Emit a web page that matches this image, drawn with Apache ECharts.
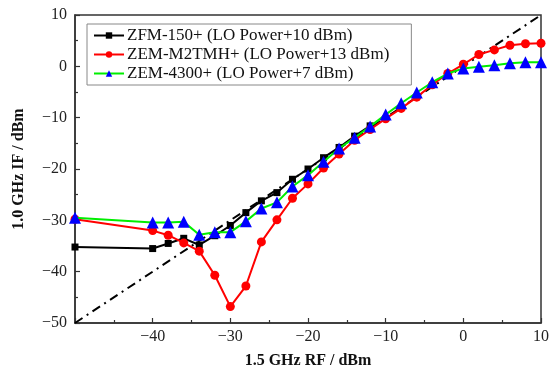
<!DOCTYPE html>
<html><head><meta charset="utf-8">
<script src="https://cdn.jsdelivr.net/npm/echarts@6/dist/echarts.min.js"></script>
<style>html,body{margin:0;padding:0;background:#fff}#c{width:560px;height:378px}</style>
</head><body><div id="c"></div>
<script>
var xLabelTicks = [-50, -40, -30, -20, -10, 0, 10];
var yLabelTicks = [-50, -40, -30, -20, -10, 0, 10];

var zfmX = [-50, -40, -38, -36, -34, -32, -30, -28, -26, -24, -22, -20, -18, -16, -14, -12];
var zfmY = [-35.2, -35.5, -34.5, -33.5, -34.8, -33.0, -31.0, -28.5, -26.2, -24.6, -22.0, -20.0, -17.8, -15.8, -13.6, -11.6];

var zemM2X = [-50, -40, -38, -36, -34, -32, -30, -28, -26, -24, -22, -20, -18, -16, -14, -12, -10, -8, -6, -4, -2, 0, 2, 4, 6, 8, 10];
var zemM2Y = [-29.8, -32.0, -32.9, -34.4, -36.0, -40.7, -46.8, -42.8, -34.2, -29.9, -25.7, -22.9, -19.8, -17.1, -14.4, -12.3, -10.2, -8.2, -6.0, -3.6, -1.4, 0.4, 2.3, 3.2, 4.1, 4.4, 4.5];

var zem43X = [-50, -40, -38, -36, -34, -32, -30, -28, -26, -24, -22, -20, -18, -16, -14, -12, -10, -8, -6, -4, -2, 0, 2, 4, 6, 8, 10];
var zem43Y = [-29.5, -30.4, -30.4, -30.3, -32.8, -32.3, -32.3, -30.2, -27.7, -26.5, -23.4, -21.2, -18.6, -16.0, -13.9, -11.7, -9.4, -7.2, -5.1, -3.1, -1.4, -0.4, -0.1, 0.2, 0.6, 0.8, 0.8];

var idealX = [-50, 10];
var idealY = [-50, 10];

var names = ['ZFM-150+ (LO Power+10 dBm)', 'ZEM-M2TMH+ (LO Power+13 dBm)', 'ZEM-4300+ (LO Power+7 dBm)'];

function zip(a, b) { return a.map(function (v, i) { return [v, b[i]]; }); }

var FONT = '"Liberation Serif", "DejaVu Serif", serif';
var chart = echarts.init(document.getElementById('c'), null, {renderer: 'canvas'});
chart.setOption({
  animation: false,
  backgroundColor: '#fff',
  grid: {left: 75, right: 19, top: 15, bottom: 55, show: true, borderColor: '#333', borderWidth: 1.5, backgroundColor: 'transparent'},
  legend: {
    orient: 'vertical', left: 87, top: 24, itemGap: 2, itemWidth: 30, itemHeight: 8,
    padding: [3, 22, 3, 6], borderColor: '#888', borderWidth: 1, backgroundColor: '#fff',
    textStyle: {fontFamily: FONT, fontSize: 17, color: '#111', padding: [0, 0, 0, -2]},
    data: names
  },
  xAxis: {
    type: 'value', min: -50, max: 10, interval: 10,
    name: '1.5 GHz RF / dBm', nameLocation: 'middle', nameGap: 30,
    nameTextStyle: {fontFamily: FONT, fontSize: 16, fontWeight: 'bold', color: '#111'},
    axisLine: {onZero: false, lineStyle: {color: '#333', width: 1.5}},
    axisTick: {inside: true, length: 5, lineStyle: {color: '#333', width: 1.2}},
    minorTick: {show: true, splitNumber: 2, length: 3, lineStyle: {color: '#333', width: 1.2}},
    axisLabel: {showMinLabel: false, fontFamily: FONT, fontSize: 16, color: '#222', margin: 6,
      formatter: function (v) { return xLabelTicks.indexOf(v) >= 0 ? String(v).replace('-', '\u2212') : ''; }},
    splitLine: {show: false}
  },
  yAxis: {
    type: 'value', min: -50, max: 10, interval: 10,
    name: '1.0 GHz IF / dBm', nameLocation: 'middle', nameGap: 48,
    nameTextStyle: {fontFamily: FONT, fontSize: 16, fontWeight: 'bold', color: '#111'},
    axisLine: {onZero: false, lineStyle: {color: '#333', width: 1.5}},
    axisTick: {inside: true, length: 5, lineStyle: {color: '#333', width: 1.2}},
    minorTick: {show: true, splitNumber: 2, length: 3, lineStyle: {color: '#333', width: 1.2}},
    axisLabel: {fontFamily: FONT, fontSize: 16, color: '#222', margin: 8,
      formatter: function (v) { return yLabelTicks.indexOf(v) >= 0 ? String(v).replace('-', '\u2212') : ''; }},
    splitLine: {show: false}
  },
  series: [
    {type: 'line', name: 'ideal', data: zip(idealX, idealY), symbol: 'none', silent: true, z: 1,
      lineStyle: {color: '#000', width: 2, type: [9, 5, 2, 5]}},
    {type: 'line', name: names[0], data: zip(zfmX, zfmY), symbol: 'rect', symbolSize: 7, z: 2,
      itemStyle: {color: '#000'}, lineStyle: {color: '#000', width: 2}},
    {type: 'line', name: names[1], data: zip(zemM2X, zemM2Y), symbol: 'circle', symbolSize: 9, z: 3,
      itemStyle: {color: '#ff0000'}, lineStyle: {color: '#ff0000', width: 2}},
    {type: 'line', name: names[2], data: zip(zem43X, zem43Y), symbol: 'triangle', symbolSize: 12, z: 4,
      itemStyle: {color: '#0000ff'}, lineStyle: {color: '#00ee00', width: 2}}
  ]
});
</script></body></html>
